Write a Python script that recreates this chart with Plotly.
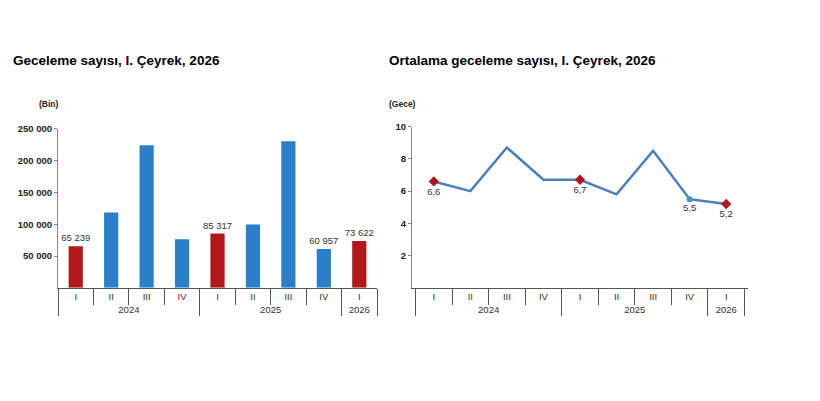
import plotly.graph_objects as go

# quarters / years for the two-level category axis
years = ["2024", "2024", "2024", "2024", "2025", "2025", "2025", "2025", "2026"]
quarters = ["I", "II", "III", "IV", "I", "II", "III", "IV", "I"]

# nights (thousands) and average nights per stay
nights = [65239, 118500, 224000, 76300, 85317, 99500, 230200, 60957, 73622]
avg_nights = [6.6, 6.0, 8.7, 6.7, 6.7, 5.8, 8.5, 5.5, 5.2]

bar_labeled = [True, False, False, False, True, False, False, True, True]
line_labeled = [True, False, False, False, True, False, False, True, True]
highlight = [True, False, False, False, True, False, False, False, True]

RED = "#b0181c"
BLUE = "#2a80c8"
LINE = "#4a7fc0"
FONT = "Liberation Sans, Arial, sans-serif"
W, H = 820, 401
OFF = 8  # page body margin

def px_x(p):
    return (p - OFF) / W

def px_y(p):
    return 1 - (p - OFF) / H

bar_colors = [RED if h else BLUE for h in highlight]
bar_text = [f"{v:,}".replace(",", " ") if lab else "" for v, lab in zip(nights, bar_labeled)]

line_text = [f"{v:.1f}".replace(".", ",") if lab else "" for v, lab in zip(avg_nights, line_labeled)]
mk_colors = [RED if h else "#3a8fd6" for h in highlight]
mk_sizes = [8 if h else (6 if lab else 0) for h, lab in zip(highlight, line_labeled)]
mk_symbols = ["diamond" if h else "circle" for h in highlight]

fig = go.Figure()

fig.add_trace(go.Bar(
    x=[years, quarters], y=nights,
    marker=dict(color=bar_colors, line=dict(width=0)),
    width=0.4,
    text=bar_text, textposition="outside", cliponaxis=False, constraintext="none",
    textfont=dict(family=FONT, size=9.5, color="#333333"),
    xaxis="x", yaxis="y", showlegend=False,
))

fig.add_trace(go.Scatter(
    x=[years, quarters], y=avg_nights,
    mode="lines+markers+text",
    line=dict(color=LINE, width=2.5),
    marker=dict(color=mk_colors, size=mk_sizes, symbol=mk_symbols, opacity=1, line=dict(width=0)),
    text=line_text, textposition="bottom center", cliponaxis=False,
    textfont=dict(family=FONT, size=9.5, color="#333333"),
    xaxis="x2", yaxis="y2", showlegend=False,
))

xcommon = dict(
    type="multicategory",
    showline=True, linecolor="#555555", linewidth=1,
    ticks="outside", tickson="boundaries", ticklen=16, tickcolor="#555555",
    showdividers=True, dividercolor="#555555", dividerwidth=1,
    tickfont=dict(family=FONT, size=9.5, color="#333333"),
    showgrid=False, zeroline=False, fixedrange=True,
)
ycommon = dict(
    showline=True, linecolor="#888888", linewidth=1,
    ticks="outside", ticklen=3, tickcolor="#888888",
    showgrid=False, zeroline=False,
    tickfont=dict(family=FONT, size=9.5, color="#222222", weight="bold"),
)

fig.update_layout(
    width=W, height=H,
    margin=dict(l=0, r=0, t=0, b=0),
    paper_bgcolor="white", plot_bgcolor="white",
    separators=", ",
    xaxis=dict(domain=[px_x(58), px_x(377)], anchor="y", **xcommon),
    yaxis=dict(domain=[px_y(286), px_y(124.5)], anchor="x", range=[0, 250000],
               tickvals=[50000, 100000, 150000, 200000, 250000], tickformat=",d", **ycommon),
    xaxis2=dict(domain=[px_x(412), px_x(748)], anchor="y2", **xcommon),
    yaxis2=dict(domain=[px_y(286), px_y(122.3)], anchor="x2", range=[0, 10],
                tickvals=[2, 4, 6, 8, 10], **ycommon),
    annotations=[
        dict(text="<b>Geceleme sayısı, I. Çeyrek, 2026</b>", x=px_x(11), y=px_y(55),
             xref="paper", yref="paper", xanchor="left", yanchor="middle", showarrow=False,
             font=dict(family=FONT, size=13.5, color="#000000")),
        dict(text="<b>Ortalama geceleme sayısı, I. Çeyrek, 2026</b>", x=px_x(387), y=px_y(55),
             xref="paper", yref="paper", xanchor="left", yanchor="middle", showarrow=False,
             font=dict(family=FONT, size=13.5, color="#000000")),
        dict(text="<b>(Bin)</b>", x=px_x(61), y=px_y(99),
             xref="paper", yref="paper", xanchor="right", yanchor="middle", showarrow=False,
             font=dict(family=FONT, size=8.5, color="#222222")),
        dict(text="<b>(Gece)</b>", x=px_x(387), y=px_y(99),
             xref="paper", yref="paper", xanchor="left", yanchor="middle", showarrow=False,
             font=dict(family=FONT, size=8.5, color="#222222")),
    ],
)

fig.write_html("out.html")
